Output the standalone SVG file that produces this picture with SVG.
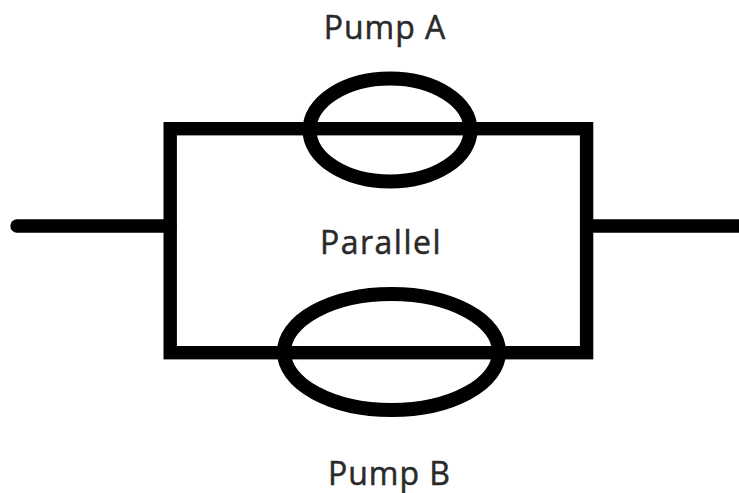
<svg xmlns="http://www.w3.org/2000/svg" width="739" height="493" viewBox="0 0 739 493">
<style>
.l{fill:none;stroke:#000;stroke-width:13.4}
.e{fill:none;stroke:#000;stroke-width:14}
text{font-family:"Open Sans","Noto Sans",sans-serif;font-size:32px;font-weight:500;letter-spacing:1px;fill:#2a2a2a;stroke:#2a2a2a;stroke-width:.5px;text-anchor:middle}
</style>
<rect width="739" height="493" fill="#fff"/>
<g id="connectors">
<rect class="l" x="170.2" y="128.7" width="416.4" height="224"/>
<path class="l" d="M17 226H170" stroke-linecap="round"/>
<path class="l" d="M586 226H739"/>
</g>
<g id="pump-a"><ellipse class="e" cx="390" cy="130" rx="80.5" ry="51.5"/><text x="385" y="39">Pump A</text></g>
<g id="pump-b"><ellipse class="e" cx="391.5" cy="352" rx="107.5" ry="58"/><text x="389.5" y="485">Pump B</text></g>
<g id="parallel"><text x="381" y="254" style="letter-spacing:1.5px">Parallel</text></g>
</svg>
